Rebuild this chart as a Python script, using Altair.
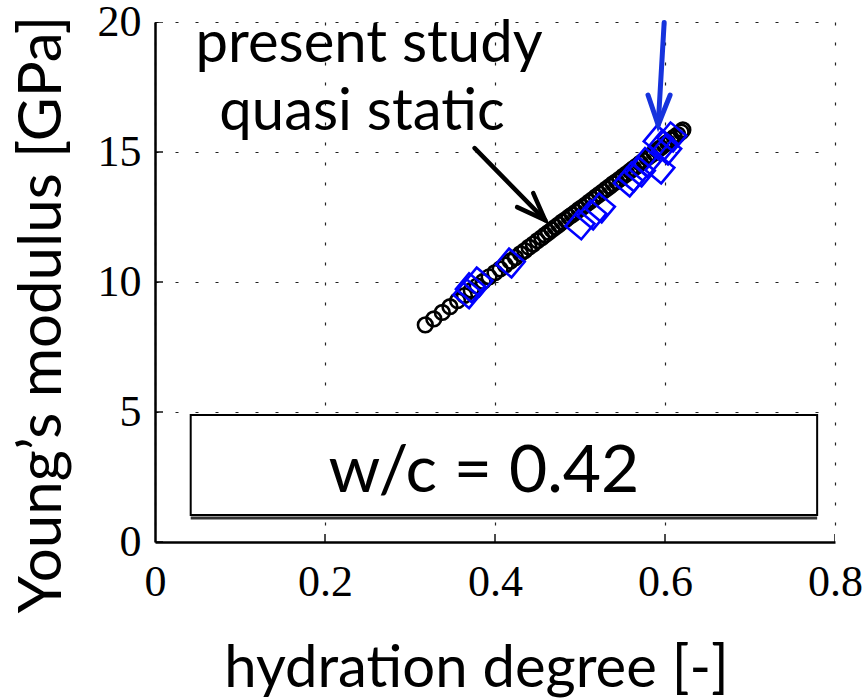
import altair as alt
import pandas as pd

# quasi-static (present study) data
circ_x = [0.318, 0.328, 0.338, 0.347, 0.356, 0.364, 0.372, 0.379, 0.386, 0.393,
          0.400, 0.406, 0.412, 0.418, 0.424, 0.430, 0.435, 0.440, 0.445, 0.450,
          0.455, 0.459, 0.463, 0.467, 0.471, 0.475, 0.479, 0.483, 0.487, 0.491,
          0.495, 0.499, 0.503, 0.507, 0.511, 0.515, 0.519, 0.523, 0.527, 0.531,
          0.535, 0.539, 0.543, 0.547, 0.551, 0.555, 0.559, 0.563, 0.567, 0.571,
          0.575, 0.579, 0.583, 0.587, 0.591, 0.595, 0.599, 0.603, 0.607, 0.611,
          0.615, 0.619, 0.621]
circ_y = [8.35, 8.58, 8.83, 9.05, 9.28, 9.48, 9.68, 9.85, 10.02, 10.20,
          10.36, 10.50, 10.65, 10.80, 10.94, 11.09, 11.21, 11.34, 11.46, 11.59,
          11.71, 11.81, 11.91, 12.01, 12.11, 12.21, 12.31, 12.40, 12.50, 12.59,
          12.69, 12.79, 12.88, 12.98, 13.08, 13.18, 13.28, 13.38, 13.48, 13.58,
          13.68, 13.78, 13.87, 13.97, 14.07, 14.17, 14.27, 14.37, 14.47, 14.57,
          14.67, 14.77, 14.87, 14.97, 15.07, 15.17, 15.27, 15.37, 15.47, 15.57,
          15.67, 15.77, 15.85]

# other data (blue squares)
sq_x = [0.368, 0.371, 0.380, 0.418, 0.500, 0.514, 0.524, 0.557, 0.562, 0.571,
        0.578, 0.594, 0.592, 0.598, 0.602, 0.608]
sq_y = [9.55, 9.78, 10.00, 10.73, 12.20, 12.58, 12.85, 13.85, 14.04, 14.23,
        14.60, 14.35, 15.46, 15.27, 15.08, 15.58]

x_ticks = [0, 0.2, 0.4, 0.6, 0.8]
y_ticks = [0, 5, 10, 15, 20]

# annotation arrows (data units)
black_arrow_x = [0.376, 0.459, 0.445, 0.459, 0.426]
black_arrow_y = [15.15, 12.38, 13.42, 12.38, 12.88]
black_arrow_seg = [0, 0, 1, 1, 1]
blue_arrow_x = [0.599, 0.592, 0.580, 0.592, 0.606]
blue_arrow_y = [19.98, 16.04, 17.19, 16.04, 17.19]
blue_arrow_seg = [0, 0, 1, 1, 1]

labels_text = ["present study", "quasi static"]
labels_x = [0.2518, 0.2435]
labels_y = [18.46, 15.85]

box_x = [0.042]
box_x2 = [0.779]
box_y = [4.88]
box_y2 = [1.04]
box_label = ["w/c = 0.42"]
box_label_x = [0.387]
box_label_y = [1.92]

FONT = "Lato"

circ = pd.DataFrame({"x": circ_x, "y": circ_y})
sq = pd.DataFrame({"x": sq_x, "y": sq_y})

xscale = alt.Scale(domain=[0, 0.8], nice=False, zero=False)
yscale = alt.Scale(domain=[0, 20], nice=False, zero=False)

xaxis = alt.Axis(values=x_ticks, format="~g", title="hydration degree [-]",
                 grid=True, gridDash=[3, 17], gridColor="#222", gridWidth=1.2,
                 ticks=False, domainColor="black", domainWidth=2.5,
                 labelFont="Liberation Serif", labelFontSize=44, labelColor="black",
                 labelPadding=18, labelFlush=False,
                 titleFont=FONT, titleFontSize=58, titleFontWeight="normal",
                 titleColor="black", titleX=321, titleY=127, titleBaseline="middle")
yaxis = alt.Axis(values=y_ticks, format="~g", title="Young\u2019s modulus [GPa]",
                 grid=True, gridDash=[3, 17], gridColor="#222", gridWidth=1.2,
                 ticks=False, domainColor="black", domainWidth=2.5,
                 labelFont="Liberation Serif", labelFontSize=44, labelColor="black",
                 labelPadding=14, labelFlush=False,
                 titleFont=FONT, titleFontSize=60, titleFontWeight="normal",
                 titleColor="black", titleX=-113, titleY=292, titleBaseline="middle",
                 titleAngle=-90)

base = alt.Chart(circ).mark_point(shape="circle", size=215, filled=False,
                                   color="black", strokeWidth=2.6, opacity=1).encode(
    x=alt.X("x:Q", scale=xscale, axis=xaxis),
    y=alt.Y("y:Q", scale=yscale, axis=yaxis),
)

# inward ticks (clipped half)
ytick_df = pd.DataFrame({"x": [0] * len(y_ticks), "y": y_ticks})
xtick_df = pd.DataFrame({"x": x_ticks, "y": [0] * len(x_ticks)})
yticks = alt.Chart(ytick_df).mark_tick(orient="horizontal", size=16, thickness=2,
                                       color="black", clip=True).encode(
    x=alt.X("x:Q", scale=xscale), y=alt.Y("y:Q", scale=yscale))
xticks = alt.Chart(xtick_df).mark_tick(orient="vertical", size=16, thickness=2,
                                       color="black", clip=True).encode(
    x=alt.X("x:Q", scale=xscale), y=alt.Y("y:Q", scale=yscale))

squares = alt.Chart(sq).mark_point(shape="square", size=420, filled=False,
                                   color="#0000ff", strokeWidth=2.6, angle=40,
                                   opacity=1).encode(
    x=alt.X("x:Q", scale=xscale), y=alt.Y("y:Q", scale=yscale))

ba = pd.DataFrame({"x": black_arrow_x, "y": black_arrow_y, "seg": black_arrow_seg,
                   "o": list(range(len(black_arrow_x)))})
bl = pd.DataFrame({"x": blue_arrow_x, "y": blue_arrow_y, "seg": blue_arrow_seg,
                   "o": list(range(len(blue_arrow_x)))})
black_arrow = alt.Chart(ba).mark_line(color="black", strokeWidth=4.5,
                                      strokeCap="round", strokeJoin="miter").encode(
    x=alt.X("x:Q", scale=xscale), y=alt.Y("y:Q", scale=yscale),
    detail="seg:N", order="o:Q")
blue_arrow = alt.Chart(bl).mark_line(color="#1633dd", strokeWidth=5,
                                     strokeCap="round", strokeJoin="miter").encode(
    x=alt.X("x:Q", scale=xscale), y=alt.Y("y:Q", scale=yscale),
    detail="seg:N", order="o:Q")

lab = pd.DataFrame({"t": labels_text, "x": labels_x, "y": labels_y})
labels = alt.Chart(lab).mark_text(font=FONT, fontSize=58, color="black",
                                  align="center", baseline="alphabetic").encode(
    x=alt.X("x:Q", scale=xscale), y=alt.Y("y:Q", scale=yscale), text="t:N")

boxdf = pd.DataFrame({"x": box_x, "x2": box_x2, "y": box_y, "y2": box_y2})
box = alt.Chart(boxdf).mark_rect(fill="white", stroke="black", strokeWidth=2).encode(
    x=alt.X("x:Q", scale=xscale), x2="x2:Q",
    y=alt.Y("y:Q", scale=yscale), y2="y2:Q")
shadow = alt.Chart(boxdf).mark_rule(color="#333", strokeWidth=3).encode(
    x=alt.X("x:Q", scale=xscale), x2="x2:Q",
    y=alt.value(496))
boxlab = pd.DataFrame({"t": box_label, "x": box_label_x, "y": box_label_y})
boxtext = alt.Chart(boxlab).mark_text(font=FONT, fontSize=66, color="black",
                                      align="center", baseline="alphabetic").encode(
    x=alt.X("x:Q", scale=xscale), y=alt.Y("y:Q", scale=yscale), text="t:N")

chart = alt.layer(base, shadow, box, boxtext, yticks, xticks, squares,
                  black_arrow, blue_arrow, labels).properties(
    width=680, height=520,
    autosize=alt.AutoSizeParams(type="none"),
    padding={"left": 155, "top": 22, "right": 31, "bottom": 158},
    background="white",
).configure_view(stroke=None)

chart.save("out.html", embed_options={"renderer": "svg", "actions": False})
